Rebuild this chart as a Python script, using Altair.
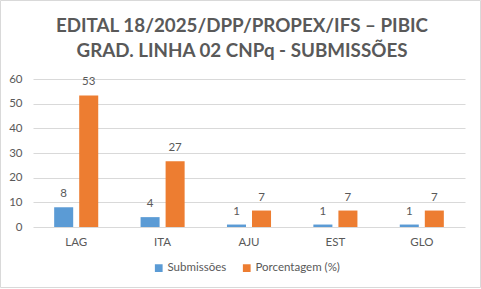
import altair as alt
import pandas as pd

categorias = ["LAG", "ITA", "AJU", "EST", "GLO"]
submissoes = [8, 4, 1, 1, 1]
porcentagem = [53.33, 26.67, 6.67, 6.67, 6.67]
series = ["Submissões", "Porcentagem (%)"]
cores = ["#5B9BD5", "#ED7D31"]
titulo = ["EDITAL 18/2025/DPP/PROPEX/IFS – PIBIC", "GRAD. LINHA 02 CNPq - SUBMISSÕES"]
yticks = [0, 10, 20, 30, 40, 50, 60]

rows = []
for c, s, p in zip(categorias, submissoes, porcentagem):
    rows.append({"cat": c, "serie": series[0], "valor": s})
    rows.append({"cat": c, "serie": series[1], "valor": p})
df = pd.DataFrame(rows)

FONT = "Lato"
GRAY = "#595959"

yenc = alt.Y("valor:Q", title=None,
             scale=alt.Scale(domain=[0, 60]),
             axis=alt.Axis(values=yticks, tickCount=20, labelFontSize=11.5, labelColor=GRAY,
                           labelFont=FONT, ticks=False, domain=False, labelPadding=11,
                           labelOverlap=False, gridColor="#D9D9D9", gridWidth=1))

base = alt.Chart(df).encode(
    x=alt.X("cat:N", sort=categorias, title=None,
            scale=alt.Scale(paddingInner=0.49, paddingOuter=0.245),
            axis=alt.Axis(labelAngle=0, labelFontSize=11.5, labelColor=GRAY, labelFont=FONT,
                          ticks=False, domain=False, labelPadding=9)),
    xOffset=alt.XOffset("serie:N", sort=series, scale=alt.Scale(paddingInner=0.24)),
    y=yenc,
)

bars = base.mark_bar().encode(
    color=alt.Color("serie:N", sort=series,
                    scale=alt.Scale(domain=series, range=cores),
                    legend=alt.Legend(title=None, orient="none", direction="horizontal",
                                      legendX=120, legendY=183, symbolType="square",
                                      symbolSize=60, symbolStrokeWidth=0,
                                      labelFontSize=11.5, labelColor=GRAY, labelFont=FONT,
                                      columnPadding=14, labelOffset=3)),
)

labels = base.mark_text(dy=-8, fontSize=11.5, color=GRAY, font=FONT, baseline="bottom").encode(
    text=alt.Text("valor:Q", format=".0f"),
)

tdf = pd.DataFrame({"t": titulo, "i": [0, 1]})
title1 = alt.Chart(tdf).transform_filter("datum.i == 0").mark_text(
    fontSize=18.8, font=FONT, fontWeight="bold", color=GRAY, align="center", baseline="alphabetic"
).encode(x=alt.value(209), y=alt.value(-47), text="t:N")
title2 = alt.Chart(tdf).transform_filter("datum.i == 1").mark_text(
    fontSize=18.8, font=FONT, fontWeight="bold", color=GRAY, align="center", baseline="alphabetic"
).encode(x=alt.value(209), y=alt.value(-22), text="t:N")

border = alt.Chart(pd.DataFrame({"a": [0]})).mark_rect(
    fill=None, stroke="#D9D9D9", strokeWidth=1
).encode(
    x=alt.value(-32.5), x2=alt.value(447.5), y=alt.value(-78.5), y2=alt.value(208.5)
)

chart = alt.layer(bars, labels, title1, title2, border).properties(
    width=432, height=148,
).configure(
    autosize=alt.AutoSizeParams(type="none"),
    padding={"left": 33, "top": 79, "right": 16, "bottom": 62},
    background="white",
).configure_view(stroke=None)

chart.save("out.html", embed_options={"renderer": "svg", "actions": False})
